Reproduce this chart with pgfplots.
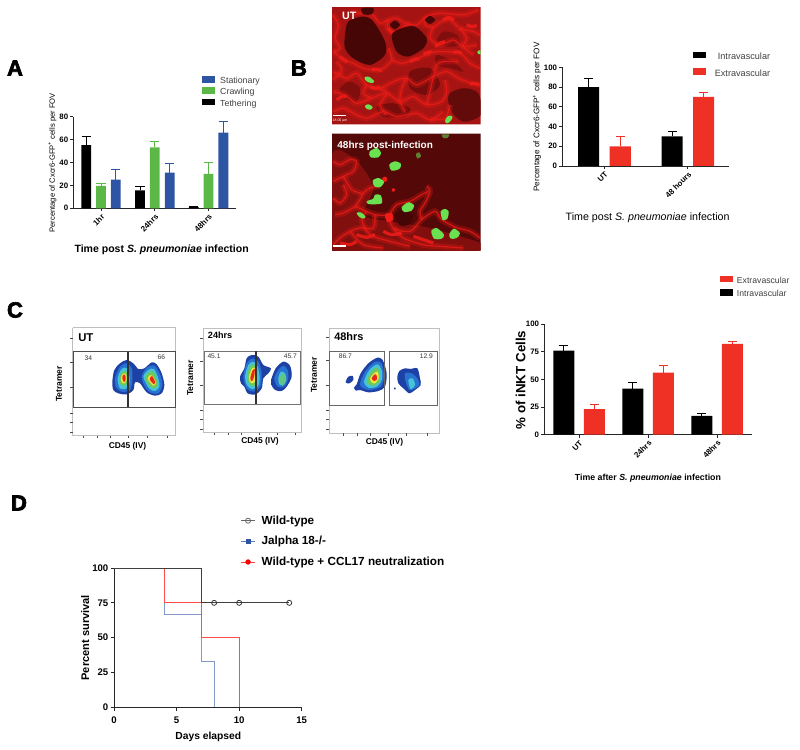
\documentclass[border=0pt]{standalone}
\usepackage{fontspec}
\setmainfont{Liberation Sans}
\font\heavyf="Liberation Sans/B:embolden=3" at 16.5pt
\usepackage{pgfplots}
\pgfplotsset{compat=1.18}
\definecolor{cblue}{RGB}{46,84,164}
\definecolor{cgreen}{RGB}{92,184,70}
\definecolor{cred}{RGB}{238,49,36}
\definecolor{fl1}{RGB}{30,65,165}
\definecolor{fl2}{RGB}{40,115,210}
\definecolor{fl3}{RGB}{70,195,215}
\definecolor{fl4}{RGB}{110,200,90}
\definecolor{fl5}{RGB}{240,230,60}
\definecolor{fl6}{RGB}{235,40,30}
\definecolor{pbase}{RGB}{165,20,18}
\definecolor{pdark}{RGB}{70,6,6}
\definecolor{pdarker}{RGB}{85,8,8}
\definecolor{pbright}{RGB}{240,28,24}
\definecolor{cell}{RGB}{105,225,80}
\newcommand\sw[2]{\addlegendimage{legend image code/.code={\fill[#1] (0pt,-.2pt) rectangle (8.8pt,3.8pt);}}\addlegendentry{#2}}
\newcommand\blob[2]{\addplot[fill=#1,draw=none,smooth cycle] coordinates {#2};}
\newcommand\net[1]{\addplot[smooth,line width=4.5pt,pbright,opacity=.28] coordinates {#1};\addplot[smooth,line width=.9pt,pbright,opacity=.75] coordinates {#1};}
\newcommand\dab[1]{\addplot[line width=2.4pt,pbright,opacity=.85,smooth] coordinates {#1};}
\pgfplotsset{
  chart/.style={scale only axis,anchor=south west,clip=false,
    axis x line*=bottom,axis y line*=left,axis line style={-,line width=.6pt,black!85},
    tick align=outside,major tick length=2.2pt,tick style={black!85,line width=.6pt},
    ymin=0,ybar,bar shift=0pt,
    /pgf/number format/assume math mode=true,
    x tick label style={rotate=45,anchor=north east,inner sep=1pt},
    y tick label style={inner sep=1.5pt},
    every axis y label/.style={rotate=90,anchor=center},
    every axis x label/.style={anchor=center},
    legend style={draw=none,fill=none,inner sep=0pt,outer sep=0pt,nodes={inner sep=.6pt}},
    legend cell align=left},
  errs/.style={error bars/.cd,y dir=plus,y explicit,
    error bar style={line width=.6pt,color=#1},
    error mark options={rotate=90,mark size=3.4pt,line width=.6pt,color=#1}},
  ovl/.style={scale only axis,anchor=south west,hide axis,y dir=reverse},
}
\begin{document}
\begin{tikzpicture}
\path[use as bounding box] (0,0) rectangle (600pt,562.5pt);

% ---------- page furniture in reference pixels
\begin{axis}[ovl,clip=false,at={(0pt,0pt)},width=600pt,height=562.5pt,xmin=0,xmax=800,ymin=0,ymax=750]
\addplot[draw=none] coordinates {(0,0)(800,750)};
\node[anchor=center,font=\heavyf] at (axis cs:15,68) {A};
\node[anchor=center,font=\heavyf] at (axis cs:299,68) {B};
\node[anchor=center,font=\heavyf] at (axis cs:15,310) {C};
\node[anchor=center,font=\heavyf] at (axis cs:19,503) {D};
\node[rotate=90,font=\bfseries\fontsize{6.4}{6.5}\selectfont] at (axis cs:59,384) {Tetramer};
\node[rotate=90,font=\bfseries\fontsize{6.4}{6.5}\selectfont] at (axis cs:190.3,378) {Tetramer};
\node[rotate=90,font=\bfseries\fontsize{6.4}{6.5}\selectfont] at (axis cs:314,375) {Tetramer};
\node[font=\bfseries\fontsize{6.3}{6.5}\selectfont] at (axis cs:127.5,446) {CD45 (IV)};
\node[font=\bfseries\fontsize{6.3}{6.5}\selectfont] at (axis cs:260,441) {CD45 (IV)};
\node[font=\bfseries\fontsize{6.3}{6.5}\selectfont] at (axis cs:384.5,442.5) {CD45 (IV)};
\node[font=\bfseries\fontsize{8.5}{9}\selectfont,anchor=west,inner sep=0pt] at (axis cs:78,337.5) {UT};
\node[font=\bfseries\fontsize{6.8}{7}\selectfont,anchor=west,inner sep=0pt] at (axis cs:207.7,335.5) {24hrs};
\node[font=\bfseries\fontsize{8.2}{8.5}\selectfont,anchor=west,inner sep=0pt] at (axis cs:334,336.5) {48hrs};
\node[font=\fontsize{5}{5}\selectfont,text=black!80] at (axis cs:88.3,358) {34};
\node[font=\fontsize{5}{5}\selectfont,text=black!80] at (axis cs:161.3,357) {66};
\node[font=\fontsize{5}{5}\selectfont,text=black!80] at (axis cs:214,356.7) {45.1};
\node[font=\fontsize{5}{5}\selectfont,text=black!80] at (axis cs:290.3,356.3) {45.7};
\node[font=\fontsize{5}{5}\selectfont,text=black!80] at (axis cs:345.3,356) {86.7};
\node[font=\fontsize{5}{5}\selectfont,text=black!80] at (axis cs:426.3,356) {12.9};
\end{axis}

% ---------- photograph UT
\begin{axis}[ovl,at={(249pt,469.3pt)},width=111.5pt,height=87.8pt,xmin=6,xmax=452,ymin=7,ymax=358]
\addplot[fill=pbase,draw=none] coordinates {(6,7)(452,7)(452,358)(6,358)} \closedcycle;
\blob{pdark!70!pbase}{(355,270)(400,250)(445,265)(452,330)(400,350)(365,320)}
\blob{pdark!50!pbase}{(140,305)(190,295)(240,310)(225,335)(160,335)}
\blob{pdark!50!pbase}{(240,200)(300,190)(330,240)(290,270)(240,250)}
\blob{pdark!40!pbase}{(320,150)(370,170)(400,200)(360,190)(320,180)}
\blob{pdark!40!pbase}{(60,230)(90,250)(80,290)(40,280)(30,250)}
\blob{pdark!40!pbase}{(340,80)(380,90)(390,120)(350,125)(320,110)}
\net{(130,30)(150,55)(175,45)(200,40)(225,55)(260,60)(290,35)(330,25)(400,30)(445,15)}
\net{(175,45)(172,70)(190,85)(215,70)(240,55)}
\net{(290,35)(285,60)(310,65)(335,50)(360,45)(390,70)(430,80)(450,90)}
\net{(310,65)(300,100)(330,120)(370,105)(400,125)(440,120)}
\net{(10,140)(40,165)(70,175)(100,190)(150,195)(185,165)(175,130)}
\net{(185,165)(215,175)(250,165)(300,145)}
\net{(290,145)(330,140)(390,145)(420,175)(450,190)}
\net{(10,200)(50,220)(80,205)(110,240)(150,250)(190,230)(230,220)(260,240)(310,215)(350,200)(385,220)(425,235)(450,240)}
\net{(10,260)(45,270)(80,295)(125,280)(170,265)(210,290)(250,275)(290,300)(335,290)(350,260)(345,225)}
\net{(10,320)(40,310)(70,325)(110,340)(160,320)(200,335)(260,325)(300,345)(340,320)}
\net{(150,250)(170,265)(150,300)(170,330)}
\net{(230,220)(215,250)(210,290)(225,320)}
\net{(290,300)(300,260)(310,215)(320,180)(340,170)(385,170)}
\net{(110,240)(100,265)(125,280)}
\net{(20,170)(35,195)(10,225)}
\net{(390,70)(410,100)(400,125)(430,150)}
\net{(8,30)(25,60)(15,100)(30,130)(10,140)}
\net{(60,20)(90,25)(130,30)}
\net{(360,300)(345,340)(300,345)}
\dab{(370,143)(382,141)(395,145)}
\dab{(280,145)(292,144)(305,140)}
\dab{(125,195)(140,194)(155,197)}
\dab{(420,237)(435,236)(448,240)}
\dab{(340,45)(355,38)(372,45)}
\dab{(410,60)(425,65)(440,62)}
\dab{(175,70)(185,82)(195,85)}
\dab{(240,170)(255,163)(268,162)}
\dab{(120,245)(135,250)(150,248)}
\dab{(30,155)(42,165)(52,170)}
\dab{(315,125)(330,115)(345,110)}
\dab{(20,285)(35,275)(50,275)}
\blob{pdark}{(55,50)(100,35)(130,50)(165,110)(165,150)(120,180)(70,160)(45,130)(45,90)}
\blob{pdark}{(185,90)(215,70)(255,65)(290,100)(280,130)(235,155)(200,140)}
\blob{pdark}{(180,60)(195,47)(210,60)(195,73)}
\blob{pdark}{(285,45)(300,33)(315,45)(300,57)}
\blob{pdark}{(95,10)(130,10)(125,28)(100,28)}
\blob{cell}{(105,216)(118,216)(132,228)(128,234)(115,232)(105,224)}
\blob{cell}{(105,303)(115,298)(128,306)(122,314)(110,312)}
\blob{cell}{(345,348)(352,335)(364,332)(367,340)(358,352)(348,355)}
\blob{cell}{(442,140)(448,136)(452,138)(452,148)(445,148)}
\addplot[white,line width=1pt] coordinates {(10,332)(48,332)};
\node[text=white,font=\fontsize{2.6}{3}\selectfont] at (axis cs:30,347) {18.00 µm};
\node[text=white,font=\bfseries\fontsize{8}{8}\selectfont] at (axis cs:58,33) {UT};
\end{axis}

% ---------- photograph 48 h
\begin{axis}[ovl,at={(249pt,374.5pt)},width=111.5pt,height=87.8pt,xmin=6,xmax=452,ymin=7,ymax=358]
\addplot[fill=pdarker,draw=none] coordinates {(6,7)(452,7)(452,358)(6,358)} \closedcycle;
\blob{pbase!55!pdarker}{(6,70)(80,90)(130,170)(100,250)(180,270)(300,290)(452,335)(452,358)(6,358)}
\net{(10,150)(40,135)(70,120)(80,90)(60,85)(30,100)(10,90)}
\net{(40,135)(65,175)(95,190)(75,225)(40,245)(15,250)}
\net{(95,190)(120,170)(150,165)}
\net{(75,225)(110,240)(135,250)(175,250)(200,220)(240,210)(275,190)(295,180)}
\net{(135,250)(130,290)(90,290)(60,300)(30,320)(10,340)}
\net{(175,250)(190,290)(240,300)(275,265)(315,240)(335,265)(380,290)}
\net{(190,290)(220,320)(280,340)(330,345)(400,350)}
\net{(110,240)(95,265)(120,310)(180,330)(240,345)}
\net{(275,265)(270,240)(285,215)(300,180)(290,165)}
\net{(10,200)(30,215)(50,190)(40,160)}
\net{(380,290)(420,300)(450,320)}
\net{(60,300)(100,340)(160,350)}
\dab{(250,315)(280,325)(310,335)}
\dab{(160,300)(185,310)(215,305)}
\dab{(80,310)(110,318)(135,310)}
\dab{(30,335)(60,340)(80,330)}
\blob{pbright}{(165,250)(185,245)(190,265)(172,272)}
\blob{pbright}{(157,140)(168,136)(172,148)(160,152)}
\blob{pbright}{(186,172)(194,172)(194,180)(186,180)}
\blob{pdark}{(195,250)(220,235)(248,250)(240,278)(210,282)}
\blob{cell}{(118,62)(140,50)(153,65)(145,78)(122,78)}
\blob{cell}{(178,100)(195,90)(213,98)(208,113)(185,118)}
\blob{cell}{(128,148)(145,140)(162,152)(150,168)(133,165)}
\blob{cell}{(110,210)(130,202)(135,190)(152,192)(156,215)(135,219)(115,218)}
\blob{cell}{(215,228)(235,213)(252,222)(245,238)(222,242)}
\blob{cell}{(80,245)(92,243)(106,255)(100,262)(87,256)}
\blob{cell}{(332,240)(345,233)(356,240)(352,262)(338,266)}
\blob{cell}{(304,298)(320,290)(342,310)(335,322)(312,322)}
\blob{cell}{(358,308)(372,292)(390,306)(380,320)(362,322)}
\blob{cell!55!pdarker}{(258,68)(268,63)(273,75)(262,82)}
\blob{cell!55!pdarker}{(335,10)(358,10)(352,20)(340,20)}
\addplot[white,line width=1pt] coordinates {(10,344)(48,344)};
\node[text=white,font=\bfseries\fontsize{7.5}{7.5}\selectfont,anchor=west] at (axis cs:8,44) {48hrs post-infection};
\end{axis}

% ---------- flow UT
\begin{axis}[ovl,clip=false,at={(78.75pt,251.25pt)},width=60pt,height=52.5pt,xmin=0,xmax=240,ymin=0,ymax=210]
\addplot[black!25,line width=.4pt] coordinates {(-97,-52)(212,-52)(212,272)(-97,272)(-97,-52)};
\blob{fl1}{(22,110)(28,75)(45,55)(65,45)(85,55)(100,72)(118,70)(140,52)(155,58)(170,85)(178,120)(170,145)(150,152)(125,142)(105,115)(90,112)(85,135)(65,148)(40,145)(25,135)}
\blob{fl2}{(30,100)(45,65)(65,55)(80,70)(82,105)(75,135)(50,140)(32,125)}
\blob{fl3}{(38,100)(50,72)(66,70)(74,100)(68,128)(45,130)}
\blob{fl4}{(44,100)(52,80)(64,80)(70,100)(63,120)(48,120)}
\blob{fl5}{(48,98)(55,85)(63,88)(65,105)(58,115)(50,112)}
\blob{fl6}{(52,97)(57,88)(62,95)(61,108)(55,110)}
\blob{fl2}{(110,95)(125,68)(148,62)(165,88)(172,120)(160,145)(135,142)(118,122)}
\blob{fl3}{(115,95)(130,75)(147,72)(160,100)(163,125)(150,138)(132,130)}
\blob{fl4}{(120,98)(132,82)(145,80)(155,105)(155,125)(143,130)(130,118)}
\blob{fl5}{(128,100)(137,90)(147,98)(152,115)(145,122)(135,112)}
\blob{fl6}{(134,102)(141,93)(150,110)(147,118)(140,112)}
\addplot[black!70,line width=.6pt] coordinates {(-95,20)(212,20)(212,187)(-95,187)(-95,20)};
\addplot[black!80,line width=.8pt] coordinates {(69,20)(69,187)};
\pgfplotsinvokeforeach{-21,51,126,204,231,261}{\draw[black!70,line width=.4pt] (axis cs:-97,#1) -- (axis cs:-106,#1);}
\pgfplotsinvokeforeach{-66,-24,15,69,126,186}{\draw[black!70,line width=.4pt] (axis cs:#1,272) -- (axis cs:#1,280);}
\end{axis}

% ---------- flow 24 h
\begin{axis}[ovl,clip=false,at={(176.25pt,251.25pt)},width=52.5pt,height=52.5pt,xmin=0,xmax=210,ymin=0,ymax=210]
\addplot[black!25,line width=.4pt] coordinates {(-95,-49)(200,-49)(200,263)(-95,263)(-95,-49)};
\blob{fl1}{(15,95)(28,70)(35,40)(50,30)(70,35)(85,60)(108,70)(100,85)(85,100)(80,130)(62,148)(38,145)(28,125)(18,115)}
\blob{fl2}{(25,95)(35,55)(52,40)(70,50)(80,85)(76,125)(55,140)(35,130)}
\blob{fl3}{(30,95)(40,60)(55,50)(68,65)(74,100)(68,125)(50,132)(36,120)}
\blob{fl4}{(36,95)(45,65)(56,58)(66,78)(68,105)(60,122)(46,120)}
\blob{fl5}{(42,95)(50,72)(58,68)(63,85)(60,110)(50,115)(44,108)}
\blob{fl6}{(46,98)(52,78)(59,72)(58,92)(52,108)(47,105)}
\blob{fl1}{(108,105)(122,70)(145,50)(165,62)(170,95)(155,125)(140,138)(120,135)(108,118)}
\blob{fl2}{(118,100)(130,75)(145,62)(158,75)(160,100)(148,125)(128,125)}
\blob{fl3}{(130,98)(138,80)(150,85)(154,105)(145,120)(133,118)}
\blob{fl4!70!fl3}{(135,98)(142,85)(150,92)(150,110)(143,122)(136,115)}
\addplot[black!55,line width=.6pt] coordinates {(-91,18)(197,18)(197,178)(-91,178)(-91,18)};
\addplot[black!80,line width=.8pt] coordinates {(63,18)(63,178)};
\pgfplotsinvokeforeach{-20,48,120,195,222,252}{\draw[black!70,line width=.4pt] (axis cs:-95,#1) -- (axis cs:-104,#1);}
\pgfplotsinvokeforeach{-62,-20,18,72,126,180}{\draw[black!70,line width=.4pt] (axis cs:#1,263) -- (axis cs:#1,271);}
\end{axis}

% ---------- flow 48 h
\begin{axis}[ovl,clip=false,at={(255pt,251.25pt)},width=75pt,height=52.5pt,xmin=0,xmax=300,ymin=0,ymax=210]
\addplot[black!25,line width=.4pt] coordinates {(-32,-51)(298,-51)(298,265)(-32,265)(-32,-51)};
\blob{fl1}{(42,128)(50,118)(62,85)(85,55)(112,38)(128,45)(140,85)(135,125)(115,138)(85,142)(60,135)(48,137)}
\blob{fl2}{(60,118)(75,80)(105,50)(125,55)(132,95)(122,125)(90,135)(70,130)}
\blob{fl3}{(72,110)(88,75)(112,58)(125,75)(125,105)(110,125)(85,128)}
\blob{fl4}{(80,110)(95,78)(112,68)(120,90)(115,115)(95,122)}
\blob{fl5}{(90,100)(102,85)(113,80)(116,100)(105,115)(95,112)}
\blob{fl6}{(95,100)(104,88)(110,92)(110,105)(102,108)}
\blob{fl1}{(17,112)(25,95)(38,93)(40,105)(28,115)}
\blob{fl1}{(172,95)(178,78)(195,70)(212,72)(232,70)(240,100)(242,120)(225,135)(208,145)(190,130)(175,115)}
\blob{fl2}{(195,85)(215,85)(232,100)(238,120)(222,132)(208,135)(197,110)}
\blob{fl3}{(205,105)(218,100)(225,120)(212,132)}
\blob{fl1}{(162,128)(167,128)(167,133)(162,133)}
\addplot[black!60,line width=.6pt] coordinates {(-31,18)(134,18)(134,181)(-31,181)(-31,18)};
\addplot[black!60,line width=.6pt] coordinates {(148,18)(292,18)(292,181)(148,181)(148,18)};
\pgfplotsinvokeforeach{-22,45,120,195,222,252}{\draw[black!70,line width=.4pt] (axis cs:-32,#1) -- (axis cs:-41,#1);}
\pgfplotsinvokeforeach{10,52,92,145,200,262}{\draw[black!70,line width=.4pt] (axis cs:#1,265) -- (axis cs:#1,273);}
\end{axis}

% ---------- panel A
\begin{axis}[chart,at={(55pt,406.3pt)},width=122pt,height=68.8pt,
  xmin=-0.865,xmax=10.1,ymax=80,bar width=0.66,
  xtick={1,4.63,8.25},xticklabels={1hr,24hrs,48hrs},ytick={0,20,40,60,80},
  tick label style={font=\bfseries\fontsize{5.9}{6}\selectfont},
  ylabel={\fontsize{5.7}{6}\selectfont Percentage of Cxcr6-GFP\textsuperscript{+} cells per FOV},
  xlabel={\bfseries\fontsize{7.9}{8}\selectfont Time post \textit{S. pneumoniae} infection},
  every axis y label/.append style={at={(axis description cs:-0.129,0.494)}},
  every axis x label/.append style={at={(axis description cs:0.543,-0.455)}},
  legend style={at={(axis description cs:0.79,1.44)},anchor=north west,font=\fontsize{6.6}{6.8}\selectfont\color{black!75},row sep=.7pt,/tikz/every odd column/.append style={column sep=4pt}}]
\sw{cblue}{Stationary}
\sw{cgreen}{Crawling}
\sw{black}{Tethering}
\addplot[fill=black,draw=none,forget plot,errs=black] coordinates {(0,55) +- (0,8) (3.63,15.5) +- (0,3.5) (7.25,1) +- (0,0.6)};
\addplot[fill=cgreen,draw=none,forget plot,errs=cgreen] coordinates {(1,19.5) +- (0,2.5) (4.63,53) +- (0,5) (8.25,30) +- (0,10)};
\addplot[fill=cblue,draw=none,forget plot,errs=cblue] coordinates {(2,25) +- (0,9) (5.63,31) +- (0,8) (9.25,66) +- (0,10)};
\end{axis}

% ---------- panel B chart
\begin{axis}[chart,at={(421.7pt,438pt)},width=125pt,height=74pt,
  xmin=-0.84,xmax=4.45,ymax=100,bar width=0.667,
  xtick={0.5,3.145},xticklabels={UT,48 hours},ytick={0,20,40,60,80,100},
  tick label style={font=\bfseries\fontsize{5.9}{6}\selectfont},
  ylabel={\fontsize{6.1}{6.2}\selectfont Percentage of Cxcr6-GFP\textsuperscript{+} cells per FOV},
  xlabel={\fontsize{8}{8}\selectfont Time post \textit{S. pneumoniae} infection},
  every axis y label/.append style={at={(axis description cs:-0.152,0.496)}},
  every axis x label/.append style={at={(axis description cs:0.512,-0.527)}},
  legend cell align=right,
  legend style={at={(axis description cs:1.252,1.155)},anchor=north east,font=\fontsize{6.85}{7}\selectfont\color{black!75},row sep=4.5pt,/tikz/every odd column/.append style={column sep=6.3pt}}]
\sw{black}{Intravascular}
\sw{cred}{Extravascular}
\addplot[fill=black,draw=none,forget plot,errs=black] coordinates {(0,80) +- (0,9) (2.645,30) +- (0,5)};
\addplot[fill=cred,draw=none,forget plot,errs=cred] coordinates {(1,20) +- (0,10) (3.645,70) +- (0,5)};
\end{axis}

% ---------- panel C chart
\begin{axis}[chart,at={(408.2pt,236.5pt)},width=155.5pt,height=83pt,
  xmin=-0.636,xmax=6.125,ymax=100,bar width=0.685,
  xtick={0.5,2.75,5},xticklabels={UT,24hrs,48hrs},ytick={0,25,50,75,100},
  tick label style={font=\bfseries\fontsize{5.9}{6}\selectfont},
  ylabel={\bfseries\fontsize{10}{10}\selectfont \% of iNKT Cells},
  xlabel={\bfseries\fontsize{6.6}{7}\selectfont Time after \textit{S. pneumoniae} infection},
  every axis y label/.append style={at={(axis description cs:-0.114,0.494)}},
  every axis x label/.append style={at={(axis description cs:0.5,-0.395)}},
  legend style={at={(axis description cs:0.847,1.434)},anchor=north west,font=\fontsize{6.5}{6.7}\selectfont\color{black!75},row sep=2.3pt,/tikz/every odd column/.append style={column sep=3pt}}]
\sw{cred}{Extravascular}
\sw{black}{Intravascular}
\addplot[fill=black,draw=none,forget plot,errs=black] coordinates {(0,76) +- (0,4.5) (2.25,41.5) +- (0,5.5) (4.5,17) +- (0,2.5)};
\addplot[fill=cred,draw=none,forget plot,errs=cred] coordinates {(1,23) +- (0,4) (3.25,56) +- (0,6.5) (5.5,82) +- (0,2.5)};
\end{axis}

% ---------- panel D
\begin{axis}[scale only axis,anchor=south west,clip=false,at={(85.5pt,32pt)},width=140.8pt,height=104.5pt,
  xmin=0,xmax=15,ymin=0,ymax=100,xtick={0,5,10,15},ytick={0,25,50,75,100},
  axis x line*=bottom,axis y line*=left,axis line style={-,line width=.7pt,black!85},
  tick align=outside,major tick length=2.6pt,tick style={black!85,line width=.7pt},
  /pgf/number format/assume math mode=true,
  tick label style={font=\bfseries\fontsize{7.2}{8}\selectfont,inner sep=1.5pt},
  x tick label style={yshift=-2.5pt},
  ylabel={\bfseries\fontsize{8.3}{8.5}\selectfont Percent survival},
  xlabel={\bfseries\fontsize{7.7}{8}\selectfont Days elapsed},
  every axis y label/.style={rotate=90,anchor=center,at={(axis description cs:-0.154,0.5)}},
  every axis x label/.style={anchor=center,at={(axis description cs:0.502,-0.215)}},
  legend cell align=left,
  legend image code/.code={\draw[mark repeat=2,mark phase=2,#1] plot coordinates {(0pt,.3pt)(5.2pt,.3pt)(10.4pt,.3pt)};},
  legend style={draw=none,fill=none,inner sep=0pt,outer sep=0pt,nodes={inner sep=.6pt},at={(axis description cs:0.675,1.38)},anchor=north west,font=\bfseries\fontsize{8.8}{9}\selectfont,row sep=6.4pt,/tikz/every odd column/.append style={column sep=4pt}}]
\addlegendimage{black!60,line width=.6pt,mark=o,mark size=1.9pt}
\addlegendentry{Wild-type}
\addlegendimage{cblue!75!white,line width=.6pt,mark=square*,mark size=1.5pt,mark options={cblue}}
\addlegendentry{Jalpha 18-/-}
\addlegendimage{red!75!white,line width=.6pt,mark=*,mark size=1.7pt,mark options={red}}
\addlegendentry{Wild-type + CCL17 neutralization}
\addplot[cblue!60!white,line width=.6pt,forget plot] coordinates {(0,100)(4,100)(4,66.7)(7,66.7)(7,33.3)(8,33.3)(8,0)};
\addplot[red!70!white,line width=.6pt,forget plot] coordinates {(0,100)(4,100)(4,75)(7,75)(7,50)(10,50)(10,0)};
\addplot[black!75,line width=.7pt,forget plot] coordinates {(0,100)(7,100)(7,75)(14,75)};
\addplot[only marks,mark=o,mark size=1.9pt,mark options={black!80,fill=white,line width=.6pt},forget plot] coordinates {(8,75)(10,75)(14,75)};
\end{axis}
\end{tikzpicture}
\end{document}
